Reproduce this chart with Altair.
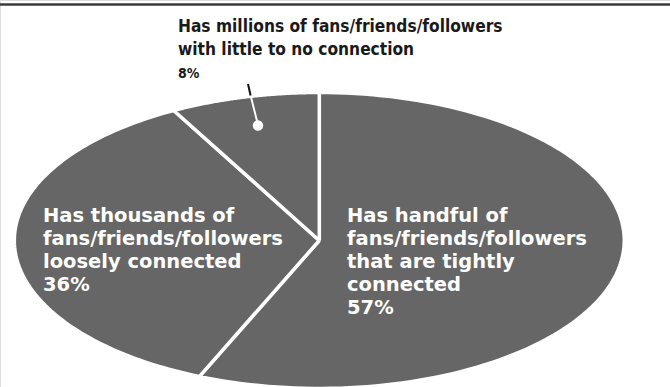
import altair as alt
import pandas as pd

# Slices, clockwise from 12 o'clock
segments = [
    "Has handful of fans/friends/followers that are tightly connected",
    "Has thousands of fans/friends/followers loosely connected",
    "Has millions of fans/friends/followers with little to no connection",
]
shares = [57, 36, 8]

W, H = 670, 387
PIE_FILL = "#666666"

slices = pd.DataFrame({"segment": segments, "share": shares, "order": list(range(len(shares)))})

# Elliptical pie: each slice becomes a closed polygon (centre -> arc -> centre)
N_ARC = 120
x_scale = alt.Scale(domain=[-1.047, 1.150], nice=False, zero=False)
y_scale = alt.Scale(domain=[-0.990, 1.625], nice=False, zero=False)

pie = (
    alt.Chart(slices)
    .transform_joinaggregate(total="sum(share)")
    .transform_window(cum="sum(share)", sort=[alt.SortField("order")])
    .transform_calculate(
        a0="2*PI*(datum.cum - datum.share)/datum.total",
        a1="2*PI*datum.cum/datum.total",
        k=f"sequence(0, {N_ARC + 3})",
    )
    .transform_flatten(["k"])
    .transform_calculate(
        ang=f"datum.a0 + (datum.a1 - datum.a0)*(datum.k - 1)/{N_ARC}",
        edge=f"datum.k > 0 && datum.k < {N_ARC + 2}",
    )
    .transform_calculate(
        px="datum.edge ? sin(datum.ang) : 0",
        py="datum.edge ? cos(datum.ang) : 0",
    )
    .mark_line(fill=PIE_FILL, stroke="white", strokeWidth=3.5, strokeJoin="miter")
    .encode(
        x=alt.X("px:Q", scale=x_scale, axis=None),
        y=alt.Y("py:Q", scale=y_scale, axis=None),
        detail="segment:N",
        order=alt.Order("k:Q"),
    )
)

# Full-width rule across the top
top_rule = alt.Chart().mark_rule(color="#3a3a3a", strokeWidth=2.5).encode(y=alt.value(4.5))

# Leader from the small slice to its label
leader_in = alt.Chart().mark_rule(color="white", strokeWidth=2).encode(
    x=alt.value(258), x2=alt.value(250.5), y=alt.value(125), y2=alt.value(95)
)
leader_out = alt.Chart().mark_rule(color="#111111", strokeWidth=2).encode(
    x=alt.value(250.6), x2=alt.value(248), y=alt.value(95.5), y2=alt.value(84)
)
dot = alt.Chart().mark_circle(color="white", opacity=1, size=110).encode(
    x=alt.value(258), y=alt.value(125.5)
)

BOLD_WIDE = "DejaVu Sans"
NARROW = "DejaVu Sans Condensed"

label_top = alt.Chart().mark_text(
    text=["Has millions of fans/friends/followers", "with little to no connection"],
    align="left", baseline="alphabetic", font=NARROW, fontWeight="bold",
    fontSize=17.2, lineHeight=23, color="#1a1a1a",
).encode(x=alt.value(178), y=alt.value(32))

label_top_pct = alt.Chart().mark_text(
    text=f"{shares[2]}%", align="left", baseline="alphabetic", font=NARROW,
    fontWeight="bold", fontSize=14, color="#1a1a1a",
).encode(x=alt.value(178), y=alt.value(78))

label_left = alt.Chart().mark_text(
    text=["Has thousands of", "fans/friends/followers", "loosely connected", f"{shares[1]}%"],
    align="left", baseline="alphabetic", font=BOLD_WIDE, fontWeight="bold",
    fontSize=19.5, lineHeight=23, color="white",
).encode(x=alt.value(43), y=alt.value(222))

label_right = alt.Chart().mark_text(
    text=["Has handful of", "fans/friends/followers", "that are tightly", "connected", f"{shares[0]}%"],
    align="left", baseline="alphabetic", font=BOLD_WIDE, fontWeight="bold",
    fontSize=19.5, lineHeight=23, color="white",
).encode(x=alt.value(347), y=alt.value(222))

chart = (
    alt.layer(pie, top_rule, leader_in, leader_out, dot, label_top, label_top_pct, label_left, label_right)
    .properties(width=W, height=H, padding=0, autosize=alt.AutoSizeParams(type="none"))
    .configure_view(stroke=None)
    .configure(background="white")
)

chart.save("out.html", embed_options={"renderer": "svg", "actions": False})
